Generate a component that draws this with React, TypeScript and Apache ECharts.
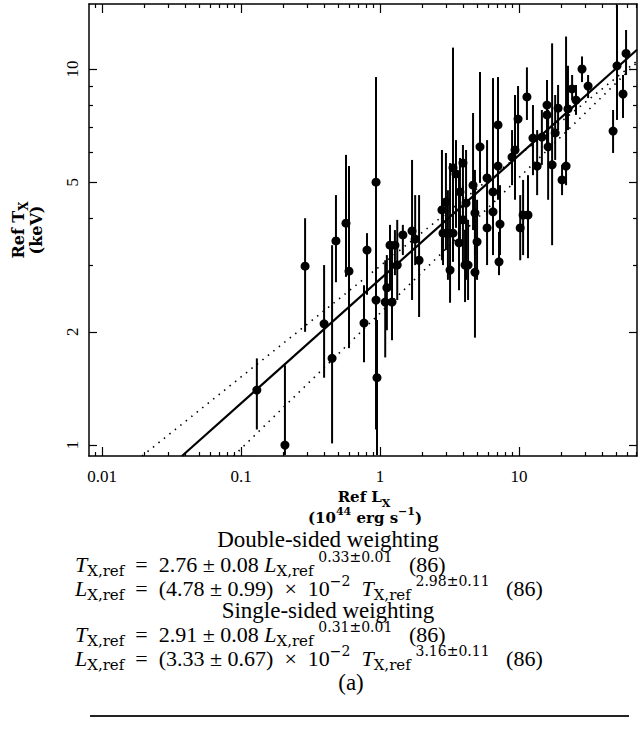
import React, { useEffect, useRef } from 'react';
import * as echarts from 'echarts';

// Reference luminosity L_X,ref (10^44 erg/s) and temperature T_X,ref (keV) with error bounds
const lumRef = [0.130, 0.207, 0.289, 0.396, 0.452, 0.482, 0.569, 0.598, 0.767, 0.806,
  0.936, 0.936, 0.951, 1.09, 1.22, 1.12, 1.18, 1.28, 1.33, 1.46,
  1.70, 1.79, 1.91, 2.79, 2.98, 2.84, 3.08, 3.35, 3.52, 3.19,
  3.76, 3.70, 3.95, 4.16, 3.95, 4.09, 4.30, 4.67, 4.82, 4.82,
  4.99, 5.24, 5.89, 5.89, 6.50, 6.50, 7.06, 7.06, 7.30, 7.18,
  8.91, 9.36, 9.84, 11.4, 10.2, 10.7, 11.6, 12.6, 13.5, 14.6,
  15.9, 15.9, 16.2, 17.3, 18.2, 19.1, 20.4, 21.8, 22.5, 24.1,
  25.7, 28.4, 31.4, 47.5, 50.7, 56.0, 58.9, 3.35];
const tempRef = [1.40, 1.00, 2.99, 2.10, 1.70, 3.49, 3.89, 2.90, 2.11, 3.30,
  5.00, 2.43, 1.51, 2.40, 2.40, 2.62, 3.40, 3.40, 3.01, 3.62,
  3.71, 3.53, 3.10, 4.22, 4.43, 3.66, 3.66, 5.46, 5.26, 2.92,
  4.71, 3.45, 5.62, 4.40, 3.97, 3.01, 3.01, 4.91, 4.14, 2.88,
  3.47, 6.21, 5.13, 3.78, 4.71, 4.17, 7.10, 5.52, 3.87, 3.07,
  5.83, 6.09, 7.36, 8.43, 3.78, 4.09, 4.09, 6.55, 5.52, 6.59,
  8.02, 7.55, 6.21, 5.56, 6.76, 7.87, 5.07, 5.52, 7.83, 8.85,
  8.27, 10.0, 9.01, 6.84, 10.2, 8.58, 11.0, 3.66];
const tempLow = [1.10, 0.94, 2.00, 1.51, 1.01, 2.71, 2.80, 1.81, 1.66, 2.51,
  2.58, 1.10, 0.94, 1.71, 1.90, 2.02, 2.58, 2.83, 2.43, 3.20,
  2.43, 3.01, 2.19, 3.10, 3.30, 3.01, 2.75, 3.97, 3.78, 2.39,
  3.51, 2.58, 4.49, 2.75, 3.01, 2.40, 2.43, 3.73, 3.20, 1.93,
  2.75, 4.98, 4.09, 3.01, 3.73, 3.20, 5.56, 4.49, 3.20, 2.83,
  4.91, 4.49, 6.09, 7.32, 3.10, 3.20, 3.14, 5.22, 4.62, 5.56,
  6.88, 6.28, 4.49, 3.40, 5.73, 6.88, 4.62, 4.91, 6.88, 8.27,
  7.55, 9.23, 8.37, 5.98, 7.32, 7.41, 9.64, 3.07];
const tempHigh = [1.70, 1.63, 4.01, 3.01, 3.40, 4.62, 5.91, 5.52, 2.66, 3.66,
  9.52, 2.62, 2.15, 3.10, 3.45, 3.20, 3.85, 3.73, 3.97, 3.85,
  5.73, 4.62, 4.62, 6.09, 5.98, 4.49, 4.76, 11.4, 6.47, 5.62,
  5.80, 5.22, 6.28, 6.09, 4.91, 3.73, 3.97, 7.64, 5.39, 3.97,
  4.49, 9.82, 6.47, 4.76, 9.46, 5.22, 9.52, 7.32, 4.91, 3.69,
  6.88, 8.53, 9.01, 10.1, 4.62, 5.07, 5.22, 8.02, 6.88, 7.78,
  9.35, 9.07, 7.78, 11.7, 8.53, 9.07, 5.56, 12.2, 10.2, 9.64,
  9.07, 10.8, 9.64, 7.78, 14.8, 9.64, 12.7, 4.22];

// Axis ranges and labelled ticks
const xRange = [0.00806, 70.6];
const yRange = [0.935, 14.89];
const xTickValues = [0.01, 0.1, 1, 10];
const yTickValues = [1, 2, 5, 10];

// Fit lines (endpoints)
const solidFitL = [0.0376, 70.6];
const solidFitT = [0.935, 11.25];
const dotUpperL = [0.0194, 70.6];
const dotUpperT = [0.935, 10.5];
const dotLowerL = [0.0884, 70.6];
const dotLowerT = [0.935, 10.4];

const lg = Math.log10;
const SERIF = 'Liberation Serif';
const SCRIPT = 'DejaVu Serif';
const BOLD = 'DejaVu Serif';

function minorTicks(range: number[], majors: number[]) {
  const out: number[] = [];
  for (const d of [0.001, 0.01, 0.1, 1, 10, 100]) {
    for (let m = 2; m <= 9; m++) {
      const v = +(d * m).toPrecision(6);
      if (v > range[0] && v < range[1] && !majors.includes(v)) out.push(v);
    }
  }
  return out;
}

function fmt(list: number[]) {
  return (v: number) => {
    const t = list.find((t) => Math.abs(lg(t) - v) < 1e-6);
    return t === undefined ? '' : String(t);
  };
}

function buildOption() {
  const xMinor = minorTicks(xRange, xTickValues);
  const yMinor = minorTicks(yRange, yTickValues);
  const line = { show: true, onZero: false, lineStyle: { color: '#000', width: 1.5 } };
  const noLine = { show: false, onZero: false };
  const tickStyle = { color: '#000', width: 1.2 };

  const xAxisBase = (position: string, major: boolean, labels: boolean) => ({
    type: 'value',
    position,
    min: lg(xRange[0]),
    max: lg(xRange[1]),
    axisLine: major ? line : noLine,
    axisTick: {
      show: true, inside: true, length: major ? 9 : 4,
      customValues: (major ? xTickValues : xMinor).map(lg), lineStyle: tickStyle,
    },
    axisLabel: labels
      ? { show: true, customValues: xTickValues.map(lg), formatter: fmt(xTickValues), margin: 12,
          fontFamily: SERIF, fontSize: 17, color: '#000' }
      : { show: false },
    splitLine: { show: false },
  });
  const yAxisBase = (position: string, major: boolean, labels: boolean) => ({
    type: 'value',
    position,
    min: lg(yRange[0]),
    max: lg(yRange[1]),
    axisLine: major ? line : noLine,
    axisTick: {
      show: true, inside: true, length: major ? 8 : 4,
      customValues: (major ? yTickValues : yMinor).map(lg), lineStyle: tickStyle,
    },
    axisLabel: labels
      ? { show: true, rotate: 90, customValues: yTickValues.map(lg), formatter: fmt(yTickValues), margin: 8,
          fontFamily: SERIF, fontSize: 17, color: '#000' }
      : { show: false },
    splitLine: { show: false },
  });

  const eqRich = {
    r: { fontFamily: SERIF, fontSize: 22, lineHeight: 28, verticalAlign: 'middle', fill: '#000' },
    i: { fontFamily: SERIF, fontSize: 22, fontStyle: 'italic', lineHeight: 28, verticalAlign: 'middle', fill: '#000' },
    s: { fontFamily: SCRIPT, fontSize: 15, lineHeight: 20, verticalAlign: 'bottom', fill: '#000' },
    p: { fontFamily: SCRIPT, fontSize: 14, lineHeight: 21, verticalAlign: 'top', fill: '#000' },
  };
  const nameRich = {
    b: { fontFamily: BOLD, fontWeight: 'bold', fontSize: 15, lineHeight: 24, verticalAlign: 'middle', fill: '#000' },
    bs: { fontFamily: BOLD, fontWeight: 'bold', fontSize: 11, lineHeight: 11, verticalAlign: 'bottom', fill: '#000' },
    bp: { fontFamily: BOLD, fontWeight: 'bold', fontSize: 11, lineHeight: 11, verticalAlign: 'top', fill: '#000' },
  };
  const yNameRich = {
    b: { fontFamily: BOLD, fontWeight: 'bold', fontSize: 16, lineHeight: 24, verticalAlign: 'middle', fill: '#000' },
    bs: { fontFamily: BOLD, fontWeight: 'bold', fontSize: 12, lineHeight: 12, verticalAlign: 'bottom', fill: '#000' },
  };

  const richText = (text: string, x: number, y: number, rich: any, align = 'left', rotation = 0) => ({
    type: 'text', x, y, rotation, silent: true,
    style: { text, rich, align, verticalAlign: 'middle', fill: '#000' },
  });
  const plainText = (text: string, x: number, y: number) => ({
    type: 'text', x, y, silent: true,
    style: { text, fontFamily: SERIF, fontSize: 23, align: 'center', verticalAlign: 'middle', fill: '#000' },
  });

  const graphic = [
    richText('{b|Ref T}{bs|X}', 18, 230, yNameRich, 'center', Math.PI / 2),
    richText('{b|(keV)}', 36, 230, yNameRich, 'center', Math.PI / 2),
    richText('{b|Ref L}{bs|X}', 364, 497, nameRich, 'center'),
    richText('{b|(10}{bp|44}{b| erg s}{bp|−1}{b|)}', 365, 518, nameRich, 'center'),
    plainText('Double-sided weighting', 328, 539),
    richText('{i|T}{s|X,ref}{r|  =  2.76 ± 0.08 }{i|L}{s|X,ref }{p|0.33±0.01}{r|   (86)}', 75, 564, eqRich),
    richText('{i|L}{s|X,ref}{r|  =  (4.78 ± 0.99)  ×  10}{p|−2}{r|  }{i|T}{s|X,ref }{p|2.98±0.11}{r|   (86)}', 75, 588, eqRich),
    plainText('Single-sided weighting', 328, 610),
    richText('{i|T}{s|X,ref}{r|  =  2.91 ± 0.08 }{i|L}{s|X,ref }{p|0.31±0.01}{r|   (86)}', 75, 634, eqRich),
    richText('{i|L}{s|X,ref}{r|  =  (3.33 ± 0.67)  ×  10}{p|−2}{r|  }{i|T}{s|X,ref }{p|3.16±0.11}{r|   (86)}', 75, 658, eqRich),
    plainText('(a)', 351, 682),
    { type: 'line', silent: true, shape: { x1: 90, y1: 716, x2: 629, y2: 716 }, style: { stroke: '#222', lineWidth: 2 } },
  ];

  const fitLine = (L: number[], T: number[], type: any, width: number) => ({
    type: 'line', xAxisIndex: 0, yAxisIndex: 0, symbol: 'none', clip: true, silent: true,
    data: L.map((l, i) => [lg(l), lg(T[i])]),
    lineStyle: { color: '#000', width, type, cap: 'butt', opacity: 1 },
    z: 3,
  });

  return {
    animation: false,
    backgroundColor: '#fff',
    grid: { left: 89, right: 1, top: 4, bottom: 281, containLabel: false },
    xAxis: [
      xAxisBase('bottom', true, true),
      xAxisBase('bottom', false, false),
      xAxisBase('top', true, false),
      xAxisBase('top', false, false),
    ],
    yAxis: [
      yAxisBase('left', true, true),
      yAxisBase('left', false, false),
      yAxisBase('right', true, false),
      yAxisBase('right', false, false),
    ],
    series: [
      {
        type: 'custom', xAxisIndex: 0, yAxisIndex: 0, clip: true, silent: true, z: 2,
        data: lumRef.map((l, i) => [lg(l), lg(tempLow[i]), lg(tempHigh[i])]),
        encode: { x: 0, y: [1, 2] },
        renderItem: (_params: any, api: any) => {
          const x = api.value(0);
          const p1 = api.coord([x, api.value(1)]);
          const p2 = api.coord([x, api.value(2)]);
          return {
            type: 'line',
            shape: { x1: p1[0], y1: p1[1], x2: p2[0], y2: p2[1] },
            style: { stroke: '#000', lineWidth: 2 },
          };
        },
      },
      {
        type: 'scatter', xAxisIndex: 0, yAxisIndex: 0, symbol: 'circle', symbolSize: 9, silent: true, z: 4,
        itemStyle: { color: '#000', opacity: 1 },
        data: lumRef.map((l, i) => [lg(l), lg(tempRef[i])]),
      },
      fitLine(solidFitL, solidFitT, 'solid', 2.2),
      fitLine(dotUpperL, dotUpperT, [1.5, 5.5], 1.6),
      fitLine(dotLowerL, dotLowerT, [1.5, 5.5], 1.6),
    ],
    graphic,
  };
}

export default function App() {
  const ref = useRef<HTMLDivElement>(null);
  useEffect(() => {
    if (!ref.current) return;
    const chart = echarts.init(ref.current, null, { renderer: 'svg' });
    chart.setOption(buildOption() as any);
    return () => chart.dispose();
  }, []);
  return (
    <div
      ref={ref}
      style={{ position: 'absolute', left: 0, top: 0, width: 638, height: 737, background: '#fff' }}
    />
  );
}
